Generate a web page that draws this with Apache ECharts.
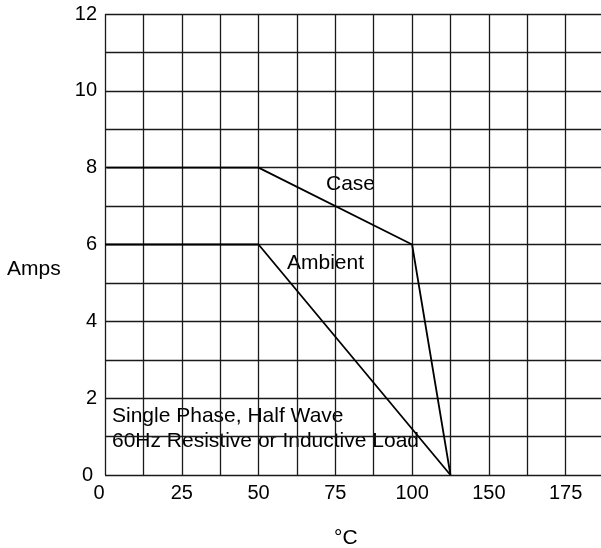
<!DOCTYPE html>
<html>
<head>
<meta charset="utf-8">
<script src="https://cdn.jsdelivr.net/npm/echarts@6/dist/echarts.min.js"></script>
<style>
  html, body { margin: 0; padding: 0; background: #fff; }
  #chart { width: 601px; height: 548px; }
</style>
</head>
<body>
<div id="chart"></div>
<script>
// x positions are in the axis' own linear units; tick labels printed as on the sheet
const caseX = [0.5, 50, 100, 112.5]
const caseY = [8, 8, 6, 0]
const ambientX = [0, 50, 112.5]
const ambientY = [6, 6, 0]
const xTickPos = [0, 25, 50, 75, 100, 125, 150]
const xTickLabels = ['0', '25', '50', '75', '100', '150', '175']
const yTickLabels = ['0', '2', '4', '6', '8', '10', '12']

const font = 'Liberation Sans, Arial, sans-serif'

const toPairs = (xs, ys) => xs.map((x, i) => [x, ys[i]])

const option = {
  animation: false,
  backgroundColor: '#fff',
  grid: { left: 105, top: 14, width: 499, bottom: 73, outerBoundsMode: 'none', containLabel: false },
  xAxis: {
    type: 'value',
    min: 0,
    max: 162.5,
    interval: 12.5,
    axisLine: { show: false },
    axisTick: { show: false },
    axisLabel: {
      margin: 8,
      color: '#000',
      fontSize: 20,
      fontFamily: font,
      formatter: v => {
        const i = xTickPos.indexOf(v)
        if (i < 0) return ''
        return i === 0 ? '{z|0}' : xTickLabels[i]
      },
      rich: { z: { fontSize: 20, fontFamily: font, color: '#000', padding: [0, 12, 0, 0] } }
    },
    splitLine: { show: true, lineStyle: { color: '#1a1a1a', width: 1.3 } }
  },
  yAxis: {
    type: 'value',
    min: 0,
    max: 12,
    interval: 1,
    axisLine: { show: false },
    axisTick: { show: false },
    axisLabel: {
      margin: 8,
      color: '#000',
      fontSize: 20,
      fontFamily: font,
      formatter: v => {
        if (v % 2 !== 0) return ''
        return v === 0 ? '{z|0}' : yTickLabels[v / 2]
      },
      rich: { z: { fontSize: 20, fontFamily: font, color: '#000', padding: [0, 4, 0, 0] } }
    },
    splitLine: { show: true, lineStyle: { color: '#1a1a1a', width: 1.3 } }
  },
  series: [
    {
      name: 'Case',
      type: 'line',
      data: toPairs(caseX, caseY),
      symbol: 'none',
      lineStyle: { color: '#000', width: 1.8 }
    },
    {
      name: 'Ambient',
      type: 'line',
      data: toPairs(ambientX, ambientY),
      symbol: 'none',
      lineStyle: { color: '#000', width: 1.8 }
    }
  ],
  graphic: [
    { type: 'text', left: 7, top: 259, style: { text: 'Amps', fill: '#000', font: '21px ' + font } },
    { type: 'text', left: 334, top: 528, style: { text: '°C', fill: '#000', font: '21px ' + font } },
    { type: 'text', left: 326, top: 174, style: { text: 'Case', fill: '#000', font: '21px ' + font } },
    { type: 'text', left: 287, top: 253, style: { text: 'Ambient', fill: '#000', font: '21px ' + font } },
    { type: 'text', left: 112, top: 406, style: { text: 'Single Phase, Half Wave', fill: '#000', font: '21px ' + font } },
    { type: 'text', left: 112, top: 431, style: { text: '60Hz Resistive or Inductive Load', fill: '#000', font: '21px ' + font } }
  ]
}

const chart = echarts.init(document.getElementById('chart'))
chart.setOption(option)
</script>
</body>
</html>
